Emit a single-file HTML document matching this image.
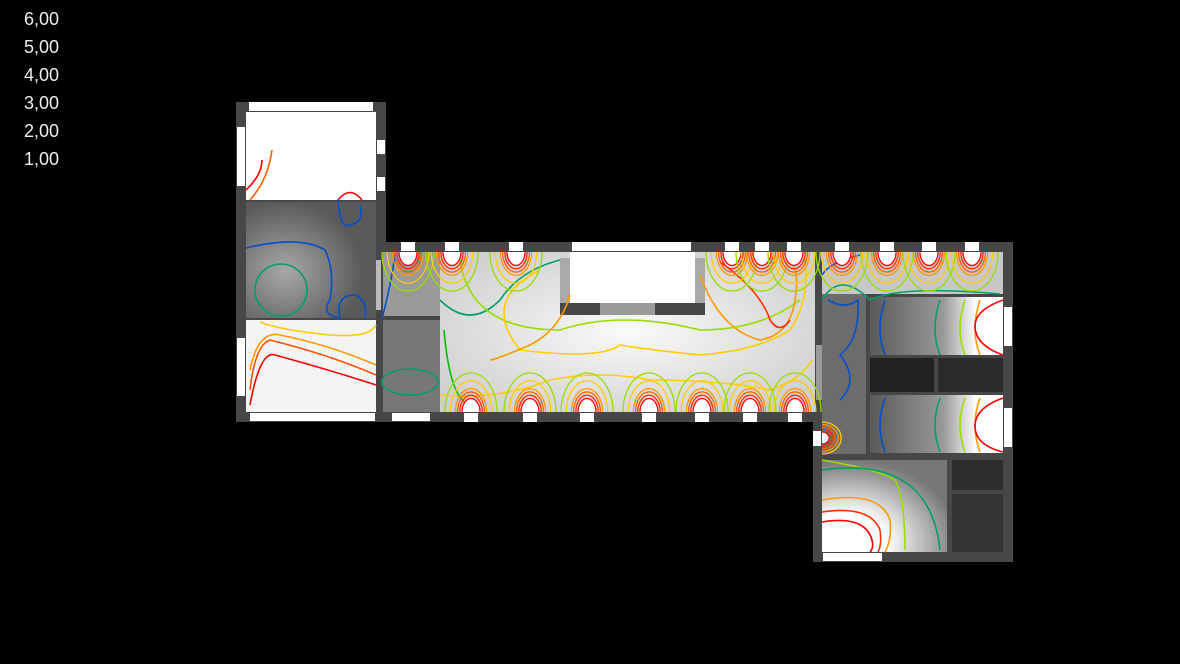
<!DOCTYPE html>
<html><head><meta charset="utf-8"><style>
html,body{margin:0;padding:0;background:#000;}
body{width:1180px;height:664px;overflow:hidden;position:relative;font-family:"Liberation Sans",sans-serif;}
.lg{position:absolute;left:24px;color:#eee;font-size:18px;line-height:18px;}
svg{position:absolute;left:0;top:0;}
</style></head><body>
<svg id="s" width="1180" height="664" viewBox="0 0 1180 664" xmlns="http://www.w3.org/2000/svg">
<defs>
<radialGradient id="gc" cx="0.3" cy="0.6" r="0.6"><stop offset="0" stop-color="#a8a8a8"/><stop offset="1" stop-color="#5a5a5a"/></radialGradient>
<radialGradient id="gh" cx="0.5" cy="0.5" r="0.6"><stop offset="0" stop-color="#fafafa"/><stop offset="1" stop-color="#d0d0d0"/></radialGradient>
<linearGradient id="gr" x1="0" x2="1"><stop offset="0" stop-color="#5a5a5a"/><stop offset="0.55" stop-color="#999"/><stop offset="0.8" stop-color="#fff"/><stop offset="1" stop-color="#fff"/></linearGradient>
<radialGradient id="gl" cx="0.2" cy="0.9" r="0.9"><stop offset="0.35" stop-color="#fff"/><stop offset="1" stop-color="#777"/></radialGradient>
</defs>
<g fill="#474747">
<rect x="236" y="102" width="150" height="320"/>
<rect x="376" y="242" width="637" height="180"/>
<rect x="813" y="420" width="200" height="142"/>
</g>
<rect x="246" y="112" width="130" height="88" fill="#fff"/>
<rect x="246" y="202" width="130" height="116" fill="url(#gc)"/>
<rect x="246" y="320" width="130" height="92" fill="#f4f4f4"/>
<rect x="383" y="252" width="55" height="64" fill="#6a6a6a"/>
<rect x="383" y="320" width="58" height="92" fill="#777"/>
<rect x="440" y="252" width="375" height="160" fill="url(#gh)"/>
<rect x="383" y="252" width="57" height="64" fill="#9a9a9a"/>
<rect x="570" y="252" width="125" height="51" fill="#fff"/>
<rect x="560" y="303" width="145" height="12" fill="#474747"/>
<rect x="600" y="303" width="55" height="12" fill="#9a9a9a"/>
<rect x="560" y="258" width="10" height="45" fill="#aaa"/>
<rect x="695" y="258" width="10" height="45" fill="#aaa"/>
<rect x="376" y="260" width="5" height="50" fill="#bbb"/>
<rect x="822" y="252" width="181" height="42" fill="#c8c8c8"/>
<rect x="822" y="294" width="44" height="160" fill="#6c6c6c"/>
<rect x="870" y="297" width="133" height="58" fill="url(#gr)"/>
<rect x="870" y="358" width="64" height="34" fill="#222"/>
<rect x="938" y="358" width="65" height="34" fill="#2a2a2a"/>
<rect x="870" y="395" width="133" height="58" fill="url(#gr)"/>
<rect x="822" y="460" width="125" height="92" fill="url(#gl)"/>
<rect x="952" y="460" width="51" height="30" fill="#2c2c2c"/>
<rect x="952" y="494" width="51" height="58" fill="#333"/>
<rect x="816" y="345" width="6" height="55" fill="#999"/>
<g fill="#fff">
<rect x="249" y="102" width="124" height="9"/>
<rect x="237" y="127" width="8" height="59"/>
<rect x="237" y="338" width="8" height="58"/>
<rect x="250" y="413" width="125" height="8"/>
<rect x="377" y="140" width="8" height="14"/>
<rect x="377" y="177" width="8" height="14"/>
<rect x="572" y="242" width="119" height="9"/>
<rect x="392" y="413" width="38" height="8"/>
<rect x="1004" y="307" width="8" height="39"/>
<rect x="1004" y="408" width="8" height="39"/>
<rect x="813" y="431" width="8" height="15"/>
<rect x="823" y="553" width="59" height="8"/>
</g>
<g fill="none" stroke-width="1.6">
<path d="M246,190 Q262,175 262,160" stroke="#ff0000"/>
<path d="M250,200 Q268,180 272,150" stroke="#ff6000"/>
<path d="M338,200 Q350,185 362,200" stroke="#ff0000"/>
<path d="M338,200 Q340,230 350,225 Q365,222 360,205" stroke="#0050d0"/>
<path d="M246,248 Q300,235 325,250 Q335,270 330,300 Q320,315 340,318" stroke="#0050d0"/>
<circle cx="281" cy="290" r="26" stroke="#00a060"/>
<path d="M340,318 Q335,295 355,295 Q368,300 365,318" stroke="#0050d0"/>
<path d="M250,405 Q260,350 275,355 Q330,370 376,385" stroke="#ff0000"/>
<path d="M250,390 Q255,345 270,340 Q330,355 376,375" stroke="#ff5000"/>
<path d="M250,370 Q258,330 280,335 Q330,345 376,365" stroke="#ff9900"/>
<path d="M260,322 Q280,330 330,335 Q370,338 376,325" stroke="#ffcc00"/>
<ellipse cx="410" cy="382" rx="28" ry="13" stroke="#00a060"/>
<path d="M395,255 Q390,290 382,318" stroke="#0050d0"/>
<path d="M440,300 Q470,330 500,300 Q520,270 560,260" stroke="#00a060"/>
<path d="M460,260 Q470,330 560,330 Q620,310 700,330 Q760,330 800,300" stroke="#99dd00"/>
<path d="M540,270 Q480,300 520,350 Q600,360 620,345 Q650,350 700,355 Q760,350 790,330 Q810,300 805,260" stroke="#ffcc00"/>
<path d="M570,295 Q560,330 530,345 Q495,360 490,360" stroke="#ff9900"/>
<path d="M700,275 Q720,330 760,340 Q790,335 795,300 Q800,270 790,262" stroke="#ff9900"/>
<path d="M720,262 Q760,290 770,320 Q780,335 790,320" stroke="#ff3000"/>
<path d="M440,395 Q500,400 550,380 Q600,370 650,380 Q720,380 770,390 Q800,380 812,360" stroke="#ffcc00"/>
<path d="M444,330 Q450,400 470,405" stroke="#00c000"/>
<path d="M822,300 Q840,270 870,300 Q900,285 1000,294" stroke="#00a060"/>
<path d="M822,275 Q830,262 860,255" stroke="#0050d0"/>
<path d="M828,300 Q845,310 858,300 Q860,340 840,355 Q860,380 840,400" stroke="#0050d0"/>
<path d="M885,300 Q875,330 885,355" stroke="#0050d0"/>
<path d="M940,300 Q930,330 940,355" stroke="#00a060"/>
<path d="M965,300 Q955,330 965,355" stroke="#99dd00"/>
<path d="M980,300 Q970,330 980,355" stroke="#ff9900"/>
<path d="M1003,300 Q975,310 975,326 Q975,345 1003,355" stroke="#ff0000"/>
<path d="M885,398 Q875,425 885,452" stroke="#0050d0"/>
<path d="M940,398 Q930,425 940,452" stroke="#00a060"/>
<path d="M965,398 Q955,425 965,452" stroke="#99dd00"/>
<path d="M980,398 Q970,425 980,452" stroke="#ff9900"/>
<path d="M1003,398 Q975,408 975,426 Q975,445 1003,452" stroke="#ff0000"/>
<path d="M822,460 Q880,470 895,480 Q905,500 905,550" stroke="#99dd00"/>
<path d="M822,470 Q930,455 940,550" stroke="#00a060"/>
<path d="M822,500 Q880,490 890,520 Q892,540 885,552" stroke="#ff9900"/>
<path d="M822,512 Q870,505 880,530 Q882,545 878,552" stroke="#ff3000"/>
<path d="M822,522 Q865,515 872,540 Q874,548 870,552" stroke="#ff0000"/>
</g>
</svg>
<div class="lg" style="top:10px">6,00</div>
<div class="lg" style="top:38px">5,00</div>
<div class="lg" style="top:66px">4,00</div>
<div class="lg" style="top:94px">3,00</div>
<div class="lg" style="top:122px">2,00</div>
<div class="lg" style="top:150px">1,00</div>
<script>
(function(){
var NS="http://www.w3.org/2000/svg",s=document.getElementById("s");
var cols=["#ff0000","#ff3000","#ff6000","#ff9900","#ffcc00","#99dd00"];
function el(t,a){var e=document.createElementNS(NS,t);for(var k in a)e.setAttribute(k,a[k]);s.appendChild(e);return e;}
function win(cx,y,w,dir){
  var n=5;
  for(var i=n;i>=0;i--){
    var r=w/2+2+i*2.2+(i>3?(i-3)*3:0);
    var ry=r*1.5;
    var yy=dir>0?y+10:y-1;
    el("path",{d:"M"+(cx-r)+","+yy+" A"+r+","+ry+" 0 0 "+(dir>0?0:1)+" "+(cx+r)+","+yy,fill:i==0?"#fff":"none",stroke:cols[i],"stroke-width":1.3});
  }
  el("rect",{x:cx-w/2,y:y,width:w,height:9,fill:"#fff"});
}
[408,452,516,732,762,794,842,887,929,972].forEach(function(x){win(x,242,14,1);});
[471,530,587,649,702,750,795].forEach(function(x){win(x,413,14,-1);});
for(var i=4;i>=0;i--){var r=6+i*2.5;el("path",{d:"M822,"+(438-r)+" A"+(r*1.2)+","+r+" 0 0 1 822,"+(438+r),fill:i==0?"#fff":"none",stroke:cols[i],"stroke-width":1.3});}
})();
</script>
</body></html>
